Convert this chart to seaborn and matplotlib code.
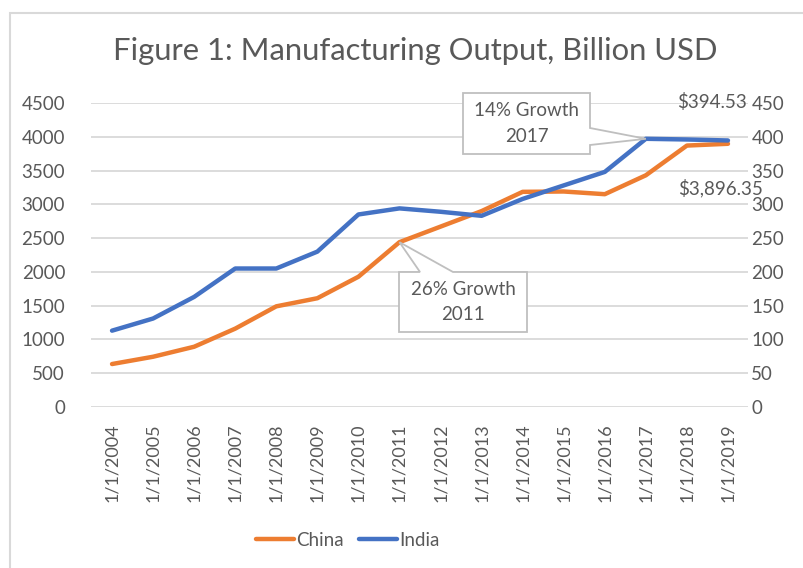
import matplotlib
matplotlib.use("Agg")
import matplotlib.pyplot as plt
from matplotlib.patches import Polygon, Rectangle
import pandas as pd
import seaborn as sns

# chart data
dates = ["1/1/2004", "1/1/2005", "1/1/2006", "1/1/2007", "1/1/2008", "1/1/2009",
         "1/1/2010", "1/1/2011", "1/1/2012", "1/1/2013", "1/1/2014", "1/1/2015",
         "1/1/2016", "1/1/2017", "1/1/2018", "1/1/2019"]
china = [636, 744, 892, 1160, 1490, 1610, 1928, 2440, 2670, 2900, 3185, 3190,
         3150, 3430, 3870, 3896.35]
india = [113, 131, 163, 205, 205, 230, 285, 294, 289, 283, 308, 328,
         348, 397, 396, 394.53]
left_ticks = [0, 500, 1000, 1500, 2000, 2500, 3000, 3500, 4000, 4500]
right_ticks = [0, 50, 100, 150, 200, 250, 300, 350, 400, 450]

df = pd.DataFrame({"Date": dates, "China": china, "India": india})

ORANGE = "#ED7D31"
BLUE = "#4472C4"
TXT = "#595959"
GRID = "#D9D9D9"
EDGE = "#BFBFBF"

sns.set_theme(style="white")
plt.rcParams["font.family"] = ["Lato", "DejaVu Sans"]

W, H = 804, 568
fig = plt.figure(figsize=(W / 100, H / 100), dpi=100)
fig.patch.set_facecolor("white")

# chart border (left/top visible)
fig.patches.append(Rectangle((10 / W, -0.1), 1.2, (H - 13) / H + 0.1,
                             transform=fig.transFigure, fill=False,
                             edgecolor="#D9D9D9", linewidth=1.5))

ax = fig.add_axes([91.5 / W, 1 - 407 / H, (748.5 - 91.5) / W, (407 - 103) / H])
sns.lineplot(data=df, x="Date", y="China", ax=ax, color=ORANGE, linewidth=3.2,
             label="China", legend=False, sort=False)
ax2 = ax.twinx()
sns.lineplot(data=df, x="Date", y="India", ax=ax2, color=BLUE, linewidth=3.2,
             label="India", legend=False, sort=False)

ax.set_xlim(-0.5, len(dates) - 0.5)
ax.set_ylim(0, 4500)
ax2.set_ylim(0, 450)
ax.set_yticks(left_ticks)
ax2.set_yticks(right_ticks)
ax.set_xlabel("")
ax.set_ylabel("")
ax2.set_ylabel("")

ax.yaxis.grid(True, color=GRID, linewidth=1.3)
ax.set_axisbelow(True)
for a in (ax, ax2):
    for s in a.spines.values():
        s.set_visible(False)
    a.tick_params(length=0, labelsize=13.5, labelcolor=TXT)
ax.tick_params(axis="x", labelsize=13)
ax.tick_params(axis="y", pad=19)
ax2.tick_params(axis="y", pad=2)
ax.tick_params(axis="x", pad=12)
plt.setp(ax.get_xticklabels(), rotation=90)

fig.text(415 / W, 1 - 51 / H, "Figure 1: Manufacturing Output, Billion USD",
         ha="center", va="center", fontsize=22.3, color=TXT)

# data labels on the last points
ax2.annotate(f"${india[-1]:,.2f}", xy=(dates[-1], india[-1]), xytext=(-16, 38),
             textcoords="offset pixels", ha="center", va="center",
             fontsize=13.5, color=TXT)
ax.annotate(f"${china[-1]:,.2f}", xy=(dates[-1], china[-1]), xytext=(-7, -44),
            textcoords="offset pixels", ha="center", va="center",
            fontsize=13.5, color=TXT)

fig.canvas.draw()


def px(x, y):
    return (x, H - y)


# 14% callout pointing at India 2017
tip = ax2.transData.transform((dates.index("1/1/2017"), india[13]))
pts = [px(463, 93), px(590, 93), px(590, 128), tuple(tip), px(590, 145),
       px(590, 154), px(463, 154)]
fig.patches.append(Polygon(pts, closed=True, transform=None, facecolor="white",
                           edgecolor=EDGE, linewidth=1.3, zorder=5))
fig.text(526.5 / W, 1 - 123.5 / H, "14% Growth\n2017", ha="center", va="center",
         fontsize=13.5, color=TXT, linespacing=1.6, zorder=6)

# 26% callout pointing at China 2011
tip = ax.transData.transform((dates.index("1/1/2011"), china[7]))
pts = [px(399, 272), px(420, 272), tuple(tip), px(453, 272), px(527, 272),
       px(527, 332), px(399, 332)]
fig.patches.append(Polygon(pts, closed=True, transform=None, facecolor="white",
                           edgecolor=EDGE, linewidth=1.3, zorder=5))
fig.text(463 / W, 1 - 302 / H, "26% Growth\n2011", ha="center", va="center",
         fontsize=13.5, color=TXT, linespacing=1.6, zorder=6)

h1, l1 = ax.get_legend_handles_labels()
h2, l2 = ax2.get_legend_handles_labels()
fig.legend(h1 + h2, l1 + l2, loc="center", bbox_to_anchor=(348 / W, 1 - 540 / H),
           ncol=2, frameon=False, fontsize=13.5, labelcolor=TXT,
           handlelength=2.0, handletextpad=0.15, columnspacing=0.8)

fig.savefig("out.png", dpi=100, facecolor="white")
